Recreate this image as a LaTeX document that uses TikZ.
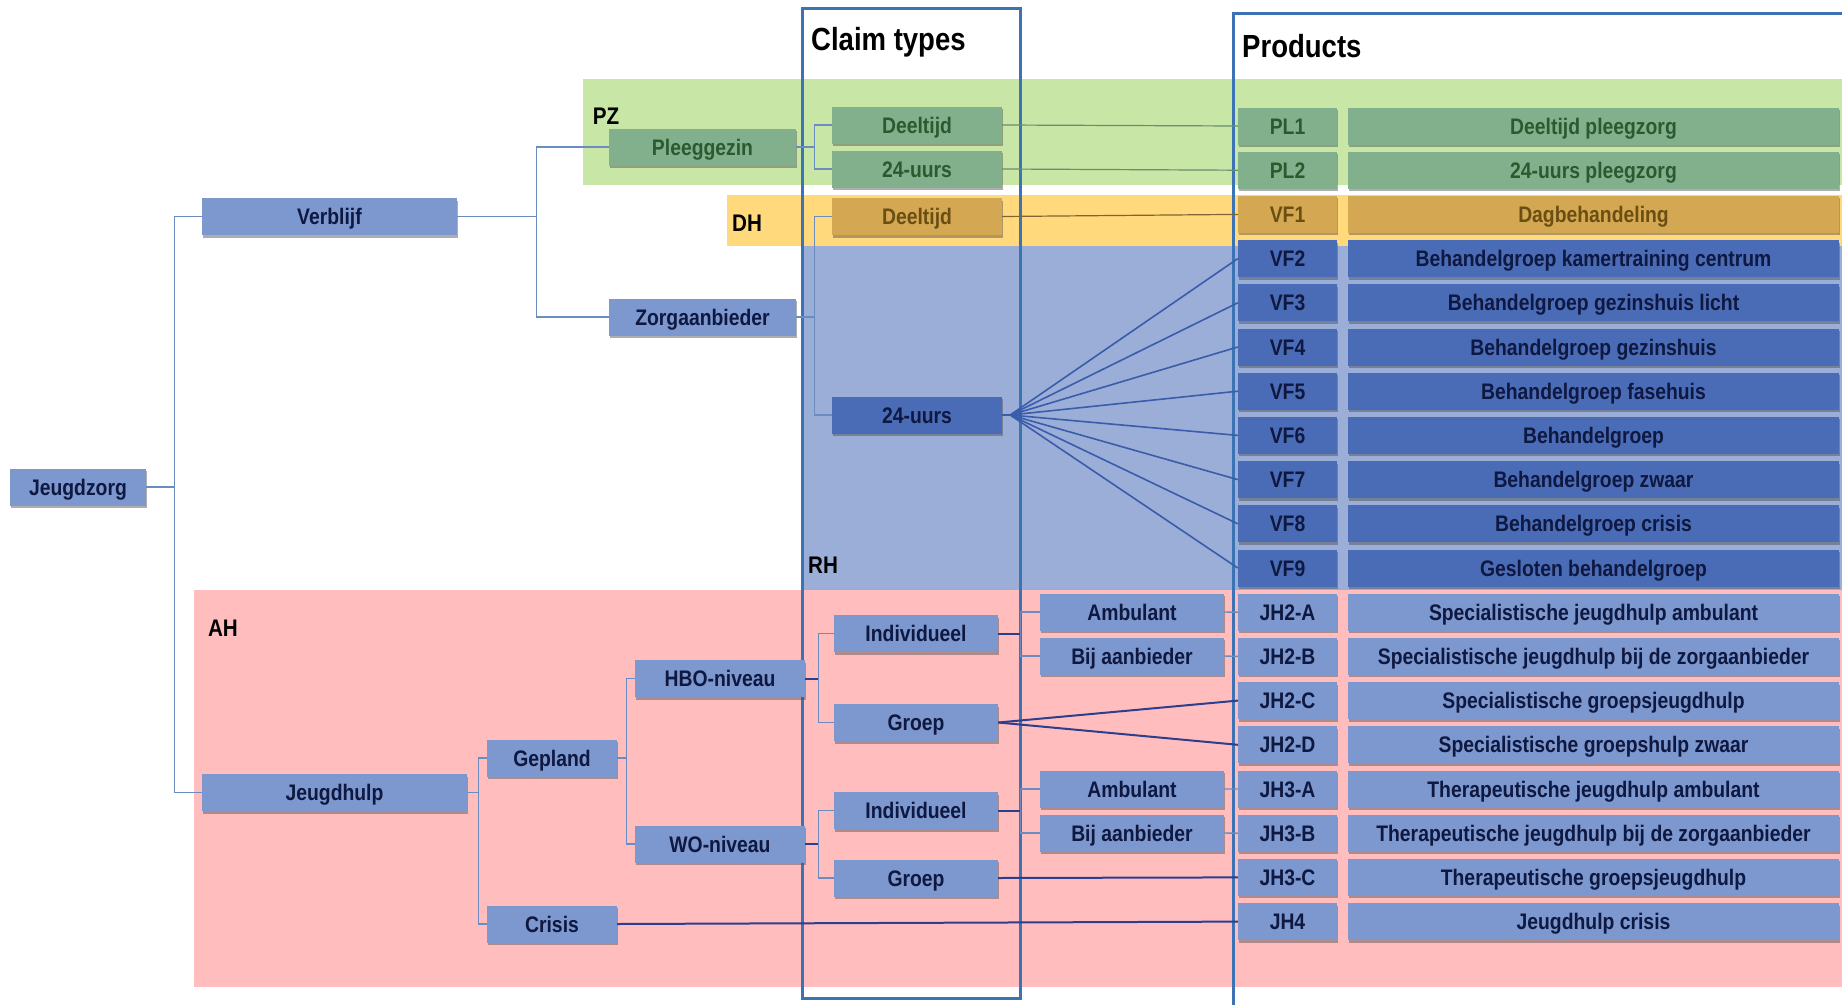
\documentclass[tikz,border=0pt]{standalone}
\usepackage{fontspec}
\setmainfont{Liberation Sans}[FakeStretch=0.86]
\usetikzlibrary{shadows}

% colours
\definecolor{bandgreen}{HTML}{C8E6A5}
\definecolor{bandyellow}{HTML}{FFD97C}
\definecolor{bandblue}{HTML}{9AAED8}
\definecolor{bandpink}{HTML}{FFBDBD}
\definecolor{nodeblue}{HTML}{7C98CE}
\definecolor{nodedark}{HTML}{4A6CB6}
\definecolor{nodegreen}{HTML}{82B08C}
\definecolor{nodeyellow}{HTML}{D4A852}
\definecolor{txtnavy}{HTML}{0E1840}
\definecolor{txtgreen}{HTML}{2C5A30}
\definecolor{txtbrown}{HTML}{6A4E12}
\definecolor{framecol}{HTML}{3C73B4}
\definecolor{linecol}{HTML}{6A8CBE}
\definecolor{linedark}{HTML}{2C3F8E}
\definecolor{linefan}{HTML}{3A5CAA}

\newcommand\boxfont{\fontsize{22.5}{24}\selectfont\bfseries}
\newcommand\titlefont{\fontsize{32}{34}\selectfont\bfseries}
\newcommand\bandfont{\fontsize{24}{26}\selectfont\bfseries}

\tikzset{
  box/.style={fill=nodeblue, text=txtnavy, font=\boxfont, inner sep=0pt,
    minimum height=37pt, text height=16pt, text depth=0pt,
    drop shadow={shadow xshift=0.5pt, shadow yshift=-2.5pt, opacity=0.45, fill=black!70}},
  rhbox/.style={box, fill=nodedark},
  pzbox/.style={box, fill=nodegreen, text=txtgreen},
  dhbox/.style={box, fill=nodeyellow, text=txtbrown},
  code/.style={minimum width=99pt},
  prod/.style={minimum width=491pt},
  link/.style={draw=linecol, line width=1.4pt},
  darklink/.style={draw=linedark, line width=2pt},
  fan/.style={draw=linefan, line width=1.6pt},
  pzlink/.style={draw=nodegreen!80!black, line width=1.2pt},
  dhlink/.style={draw=nodeyellow!60!black, line width=1.2pt},
  frame/.style={draw=framecol, line width=3pt},
  bandlabel/.style={font=\bandfont, text=black, inner sep=0pt}
}

\begin{document}
\begin{tikzpicture}[x=1pt, y=-1pt]
  \useasboundingbox (0,0) rectangle (1842,1004);

  % coloured bands
  \fill[bandgreen] (583,79) rectangle (1842,185);
  \fill[bandyellow] (727,195) rectangle (1842,246);
  \fill[bandblue] (802,246) rectangle (1842,590);
  \fill[bandpink] (194,590) rectangle (1842,987);

  \node[bandlabel] (pz) at (606,116) {PZ};
  \node[bandlabel] (dh) at (747,223) {DH};
  \node[bandlabel] (rh) at (823,565) {RH};
  \node[bandlabel] (ah) at (223,628) {AH};

  % columns
  \draw[frame] (802,8) rectangle (1020,998);
  \draw[frame] (1233,1010) -- (1233,13) -- (1850,13);
  \node[font=\titlefont, anchor=west, inner sep=0pt] (claims) at (811,42) {Claim types};
  \node[font=\titlefont, anchor=west, inner sep=0pt] (products) at (1242,46) {Products};

  % tree
  \node[box, minimum width=136pt] (jeugdzorg) at (78,487) {Jeugdzorg};
  \node[box, minimum width=255pt] (verblijf) at (329.5,216.5) {Verblijf};
  \node[box, minimum width=265pt] (jeugdhulp) at (334.5,792.5) {Jeugdhulp};
  \node[pzbox, minimum width=187pt] (pleeggezin) at (702.5,147) {Pleeggezin};
  \node[box, minimum width=187pt] (zorgaanbieder) at (702.5,317) {Zorgaanbieder};
  \node[pzbox, minimum width=170pt] (pzdeel) at (917,125) {Deeltijd};
  \node[pzbox, minimum width=170pt] (pzetmaal) at (917,169) {24-uurs};
  \node[dhbox, minimum width=170pt] (dhdeel) at (917,216.5) {Deeltijd};
  \node[rhbox, minimum width=170pt] (rhetmaal) at (917,415) {24-uurs};
  \node[box, minimum width=130pt] (gepland) at (552,758) {Gepland};
  \node[box, minimum width=130pt] (crisis) at (552,924) {Crisis};
  \node[box, minimum width=170pt] (hbo) at (720,678.5) {HBO-niveau};
  \node[box, minimum width=170pt] (wo) at (720,844) {WO-niveau};
  \node[box, minimum width=164pt] (indiv1) at (916,633.5) {Individueel};
  \node[box, minimum width=164pt] (groep1) at (916,722.5) {Groep};
  \node[box, minimum width=164pt] (indiv2) at (916,810.5) {Individueel};
  \node[box, minimum width=164pt] (groep2) at (916,878) {Groep};
  \node[box, minimum width=184pt] (amb1) at (1132,612) {Ambulant};
  \node[box, minimum width=184pt] (bij1) at (1132,656) {Bij aanbieder};
  \node[box, minimum width=184pt] (amb2) at (1132,789) {Ambulant};
  \node[box, minimum width=184pt] (bij2) at (1132,833) {Bij aanbieder};

  % product rows
  \foreach \name/\code/\prod/\kind [count=\i from 0] in {
      pl1/PL1/Deeltijd pleegzorg/pzbox,
      pl2/PL2/24-uurs pleegzorg/pzbox,
      vf1/VF1/Dagbehandeling/dhbox,
      vf2/VF2/Behandelgroep kamertraining centrum/rhbox,
      vf3/VF3/Behandelgroep gezinshuis licht/rhbox,
      vf4/VF4/Behandelgroep gezinshuis/rhbox,
      vf5/VF5/Behandelgroep fasehuis/rhbox,
      vf6/VF6/Behandelgroep/rhbox,
      vf7/VF7/Behandelgroep zwaar/rhbox,
      vf8/VF8/Behandelgroep crisis/rhbox,
      vf9/VF9/Gesloten behandelgroep/rhbox,
      jh2a/JH2-A/Specialistische jeugdhulp ambulant/box,
      jh2b/JH2-B/Specialistische jeugdhulp bij de zorgaanbieder/box,
      jh2c/JH2-C/Specialistische groepsjeugdhulp/box,
      jh2d/JH2-D/Specialistische groepshulp zwaar/box,
      jh3a/JH3-A/Therapeutische jeugdhulp ambulant/box,
      jh3b/JH3-B/Therapeutische jeugdhulp bij de zorgaanbieder/box,
      jh3c/JH3-C/Therapeutische groepsjeugdhulp/box,
      jh4/JH4/Jeugdhulp crisis/box} {
    \node[\kind, code] (\name) at (1287.5,126+44.2*\i) {\code};
    \node[\kind, prod] (p\name) at (1593.5,126+44.2*\i) {\prod};
  }

  % connectors
  \draw[link] (jeugdzorg.east) -- ++(28,0) coordinate (j0);
  \draw[link] (verblijf.west) -| (j0) |- (jeugdhulp.west);
  \draw[link] (verblijf.east) -- ++(79,0) coordinate (j1);
  \draw[link] (pleeggezin.west) -| (j1) |- (zorgaanbieder.west);
  \draw[link] (pleeggezin.east) -- ++(18,0) coordinate (j2);
  \draw[link] (pzdeel.west) -| (j2) |- (pzetmaal.west);
  \draw[link] (zorgaanbieder.east) -- ++(18,0) coordinate (j3);
  \draw[link] (dhdeel.west) -| (j3) |- (rhetmaal.west);

  \draw[link] (jeugdhulp.east) -- ++(11,0) coordinate (j4);
  \draw[link] (gepland.west) -| (j4) |- (crisis.west);
  \draw[link] (gepland.east) -- ++(9,0) coordinate (j5);
  \draw[link] (hbo.west) -| (j5) |- (wo.west);
  \draw[darklink] (hbo.east) -- ++(13,0) coordinate (j6);
  \draw[link] (indiv1.west) -| (j6) |- (groep1.west);
  \draw[darklink] (wo.east) -- ++(13,0) coordinate (j7);
  \draw[link] (indiv2.west) -| (j7) |- (groep2.west);
  \draw[darklink] (indiv1.east) -- ++(22,0) coordinate (j8);
  \draw[link] (amb1.west) -| (j8) |- (bij1.west);
  \draw[darklink] (indiv2.east) -- ++(22,0) coordinate (j9);
  \draw[link] (amb2.west) -| (j9) |- (bij2.west);

  \draw[pzlink] (pzdeel.east) -- (pl1.west);
  \draw[pzlink] (pzetmaal.east) -- (pl2.west);
  \draw[dhlink] (dhdeel.east) -- (vf1.west);
  \draw[fan] (rhetmaal.east) -- ++(8,0) coordinate (jf);
  \foreach \i in {2,...,9}
    \draw[fan] (jf) -- (vf\i.west);

  \draw[link] (amb1.east) -- (jh2a.west);
  \draw[link] (bij1.east) -- (jh2b.west);
  \draw[link] (amb2.east) -- (jh3a.west);
  \draw[link] (bij2.east) -- (jh3b.west);
  \draw[darklink] (groep1.east) -- (jh2c.west);
  \draw[darklink] (groep1.east) -- (jh2d.west);
  \draw[darklink] (groep2.east) -- (jh3c.west);
  \draw[darklink] (crisis.east) -- (jh4.west);
\end{tikzpicture}
\end{document}
